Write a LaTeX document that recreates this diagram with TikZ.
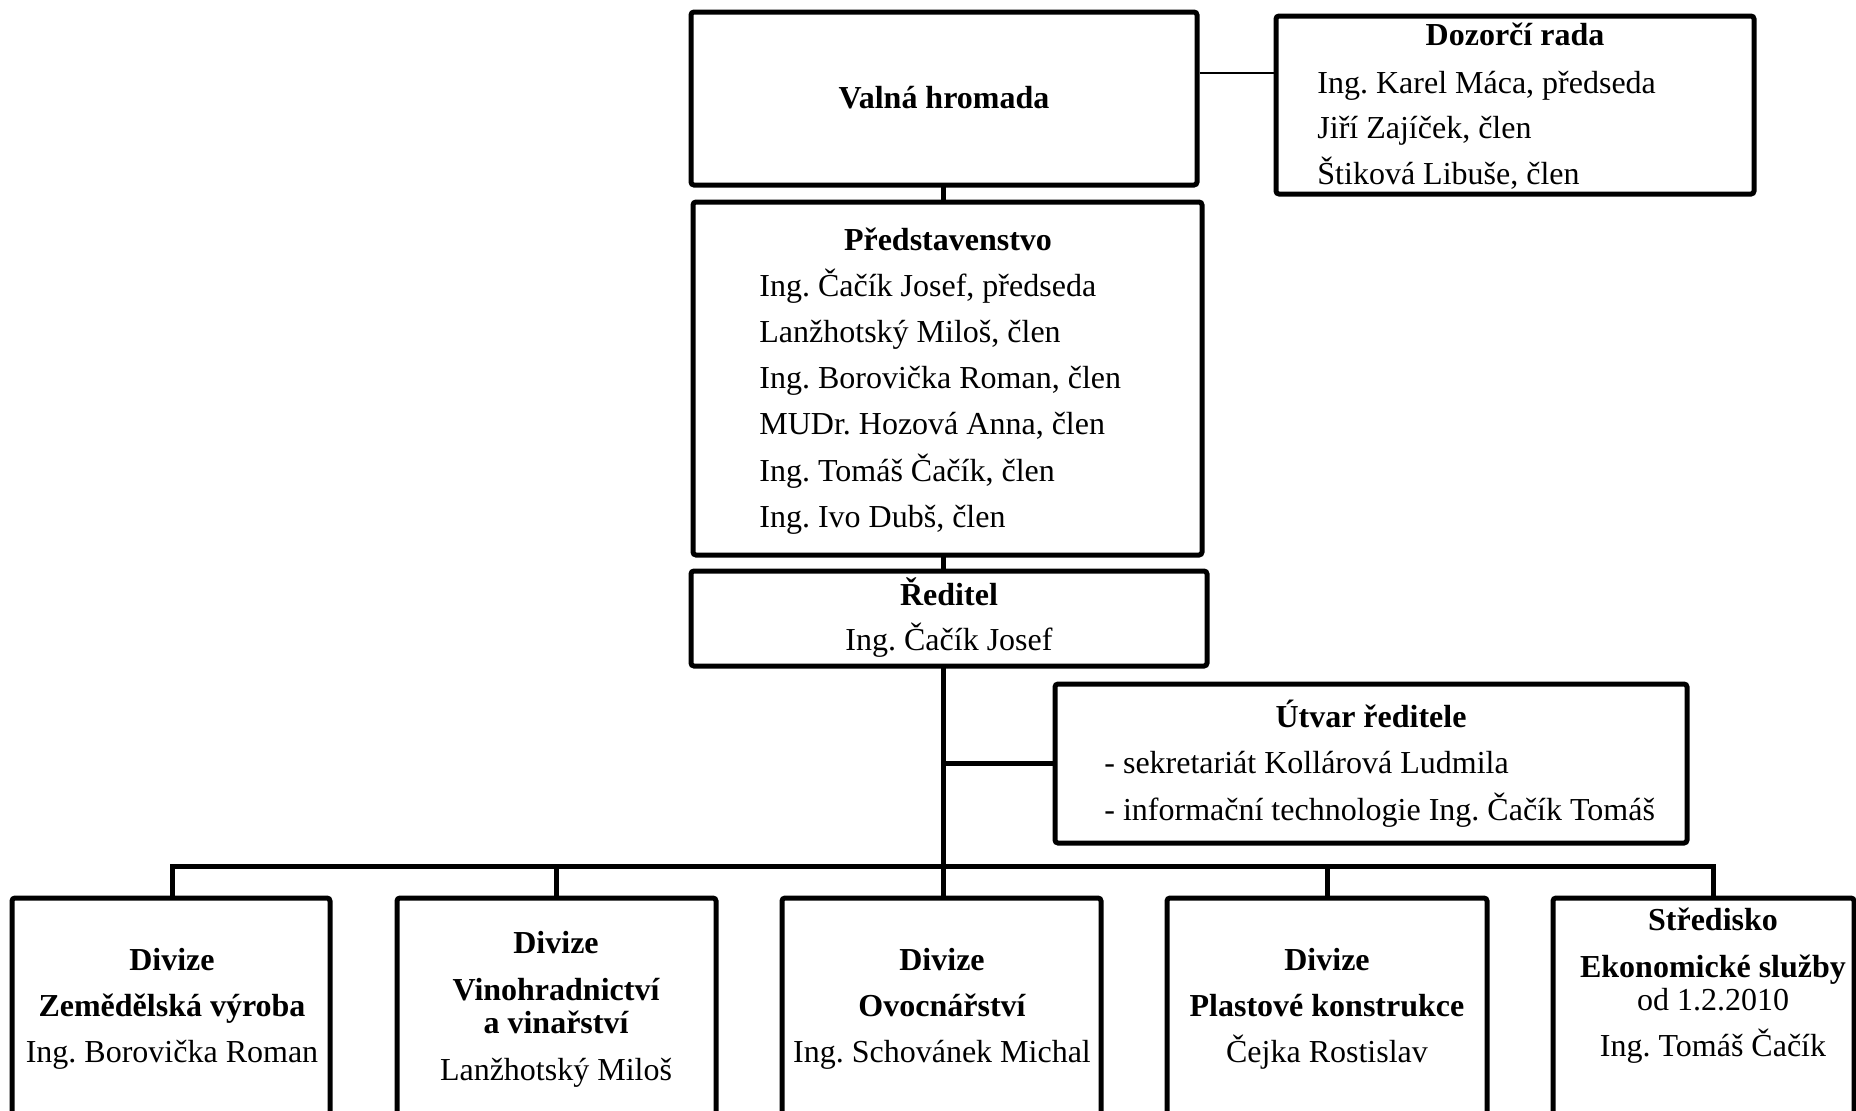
\documentclass[tikz,border=0pt]{standalone}
\usepackage{fontspec}
\setmainfont{Liberation Serif}
\frenchspacing
\begin{document}
\begin{tikzpicture}[x=0.5pt, y=-0.5pt,
  box/.style={draw, line width=2.5pt, rounded corners=1.5pt, inner sep=0pt},
  link/.style={line width=2.5pt, line cap=rect},
  thinlink/.style={line width=1pt},
  txt/.style={font=\fontsize{16}{23}\selectfont\frenchspacing, inner sep=0pt, anchor=base},
  head/.style={txt, font=\fontsize{16}{23}\selectfont\frenchspacing\bfseries}]
\useasboundingbox (0,0) rectangle (1856,1110);
\clip (0,0) rectangle (1856,1110);
% upper boxes
\node[box, minimum width=253pt, minimum height=86.5pt] (valna) at (944,98.5) {};
\node[box, minimum width=239pt, minimum height=89pt] (dozor) at (1515,105) {};
\node[box, minimum width=254.5pt, minimum height=176.5pt] (pred) at (947.5,378.5) {};
\node[box, minimum width=258pt, minimum height=47.5pt] (reditel) at (949,618.5) {};
\node[box, minimum width=316pt, minimum height=79.5pt] (utvar) at (1371,763.5) {};
% divisions
\foreach \cx/\w [count=\i] in {171/159, 556.5/159.5, 941.5/159.5, 1327/160, 1703.5/150.5}
  \node[box, minimum width=\w pt, minimum height=126pt] (div\i) at (\cx,1024) {};
% texts
\node[head] (valnat) at (944,108) {Valná hromada};
\node[head] (dozort) at (1515,45.5) {Dozorčí rada};
\foreach \m [count=\i] in {{Ing. Karel Máca, předseda}, {Jiří Zajíček, člen}, {Štiková Libuše, člen}}
  \node[txt, anchor=base west] (dozor\i) at (1317,47.5+45.5*\i) {\m};
\node[head] (predt) at (948,250) {Představenstvo};
\foreach \m [count=\i] in {{Ing. Čačík Josef, předseda}, {Lanžhotský Miloš, člen},
    {Ing. Borovička Roman, člen}, {MUDr. Hozová Anna, člen},
    {Ing. Tomáš Čačík, člen}, {Ing. Ivo Dubš, člen}}
  \node[txt, anchor=base west] (pred\i) at (759,250+46.2*\i) {\m};
\node[head] (reditelt) at (949,605) {Ředitel};
\node[txt] (reditel1) at (949,650) {Ing. Čačík Josef};
\node[head] (utvart) at (1371,727) {Útvar ředitele};
\node[txt, anchor=base west] (utvar1) at (1104,773) {- sekretariát Kollárová Ludmila};
\node[txt, anchor=base west] (utvar2) at (1104,820) {- informační technologie Ing. Čačík Tomáš};
% division texts
\node[head] (div1a) at (172,970) {Divize};
\node[head] (div1b) at (172,1016) {Zemědělská výroba};
\node[txt] (div1c) at (172,1062) {Ing. Borovička Roman};
\node[head] (div2a) at (556,953) {Divize};
\node[head] (div2b) at (556,1000) {Vinohradnictví};
\node[head] (div2c) at (556,1033) {a vinařství};
\node[txt] (div2d) at (556,1080) {Lanžhotský Miloš};
\node[head] (div3a) at (942,970) {Divize};
\node[head] (div3b) at (942,1016) {Ovocnářství};
\node[txt] (div3c) at (942,1062) {Ing. Schovánek Michal};
\node[head] (div4a) at (1327,970) {Divize};
\node[head] (div4b) at (1327,1016) {Plastové konstrukce};
\node[txt] (div4c) at (1327,1062) {Čejka Rostislav};
\node[head] (div5a) at (1713,930) {Středisko};
\node[head] (div5b) at (1713,977) {Ekonomické služby};
\node[txt] (div5c) at (1713,1010) {od 1.2.2010};
\node[txt] (div5d) at (1713,1056) {Ing. Tomáš Čačík};
% connectors
\foreach \dx [count=\i] in {172,556,943,1327,1713}
  \coordinate (bus\i) at (\dx,866);
\draw[link] (bus1) -- (bus5);
\foreach \i in {1,...,5}
  \draw[link] (bus\i) -- (bus\i |- div\i.north);
\draw[link] (bus3 |- valna.south) -- (bus3 |- pred.north);
\draw[link] (bus3 |- pred.south) -- (bus3 |- reditel.north);
\draw[link] (bus3 |- reditel.south) -- (bus3);
\draw[link] (utvar.west) -- (utvar.west -| bus3);
\coordinate (dzlink) at (1230,73);
\draw[thinlink] (valna.east |- dzlink) -- (dozor.west |- dzlink);
\end{tikzpicture}
\end{document}
